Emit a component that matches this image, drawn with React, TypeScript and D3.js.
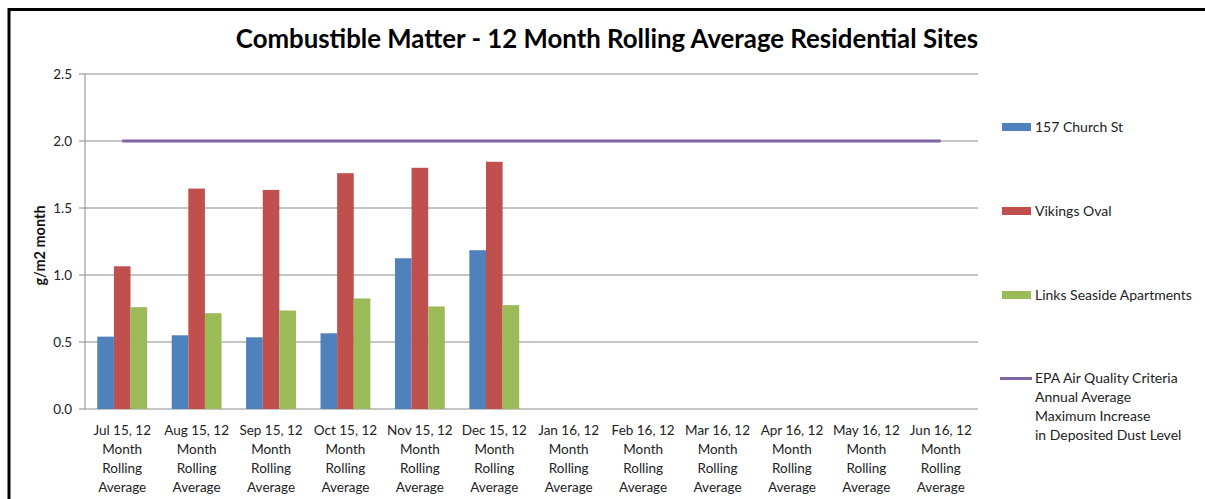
import React from "react";
import * as d3 from "d3";

// Category labels (multi-line) for the 12 monthly rolling averages
const months = [
  "Jul 15, 12", "Aug 15, 12", "Sep 15, 12", "Oct 15, 12", "Nov 15, 12", "Dec 15, 12",
  "Jan 16, 12", "Feb 16, 12", "Mar 16, 12", "Apr 16, 12", "May 16, 12", "Jun 16, 12",
];
const subLines = ["Month", "Rolling", "Average"];

// Series values in g/m2 month (null = no data yet)
const churchSt: (number | null)[] = [0.54, 0.55, 0.535, 0.565, 1.125, 1.185, null, null, null, null, null, null];
const vikingsOval: (number | null)[] = [1.065, 1.645, 1.635, 1.76, 1.8, 1.845, null, null, null, null, null, null];
const linksSeaside: (number | null)[] = [0.76, 0.715, 0.735, 0.825, 0.765, 0.775, null, null, null, null, null, null];
const epaCriteria: number[] = [2, 2, 2, 2, 2, 2, 2, 2, 2, 2, 2, 2];

const yTicks = [0, 0.5, 1.0, 1.5, 2.0, 2.5];

const seriesNames = ["157 Church St", "Vikings Oval", "Links Seaside Apartments"];
const seriesColors = ["#4F81BD", "#C0504D", "#9BBB59"];
const epaColor = "#7E64A0";
const epaLabel = ["EPA Air Quality Criteria", "Annual Average", "Maximum Increase", "in Deposited Dust Level"];

const W = 1205;
const H = 499;
const FONT = "Lato, 'Open Sans', sans-serif";

export default function App() {
  const left = 85;
  const right = 978;
  const top = 74;
  const bottom = 409;

  const x = d3.scaleBand<string>().domain(months).range([left, right]).paddingInner(0.33).paddingOuter(0.165);
  const y = d3.scaleLinear().domain([0, 2.5]).range([bottom, top]);
  const series = [churchSt, vikingsOval, linksSeaside];
  const xs = d3.scaleBand<number>().domain([0, 1, 2]).range([0, x.bandwidth()]);

  const line = d3
    .line<number>()
    .x((_, i) => (x(months[i]) as number) + x.bandwidth() / 2)
    .y((d) => y(d));

  const legendY = [127, 211, 295];

  return (
    <svg
      width={W}
      height={H}
      style={{ position: "absolute", left: 0, top: 0, background: "#fff" }}
      fontFamily={FONT}
    >
      {/* frame */}
      <line x1={9} y1={9.5} x2={W} y2={9.5} stroke="#000" strokeWidth={3} />
      <line x1={9} y1={8} x2={9} y2={H} stroke="#000" strokeWidth={3} />

      <text x={607} y={48} textAnchor="middle" fontSize={25.8} fontWeight="bold" fill="#000">
        Combustible Matter - 12 Month Rolling Average Residential Sites
      </text>

      {/* gridlines + y ticks */}
      {yTicks.map((t) => (
        <g key={t}>
          <line x1={left - 6} x2={right} y1={y(t)} y2={y(t)} stroke="#8a8a8a" strokeWidth={1} />
          <text x={72} y={y(t)} dy="0.35em" textAnchor="end" fontSize={13.5} fill="#222">
            {t.toFixed(1)}
          </text>
        </g>
      ))}
      <line x1={left} x2={left} y1={top} y2={bottom} stroke="#8a8a8a" strokeWidth={1} />

      <text
        transform={`translate(40,${(top + bottom) / 2 + 4}) rotate(-90)`}
        textAnchor="middle"
        dy="0.35em"
        fontSize={14.5}
        fontWeight="bold"
        fill="#111"
      >
        g/m2 month
      </text>

      {/* bars */}
      {series.map((s, si) =>
        s.map((v, i) =>
          v == null ? null : (
            <rect
              key={`${si}-${i}`}
              x={(x(months[i]) as number) + (xs(si) as number)}
              y={y(v)}
              width={xs.bandwidth()}
              height={bottom - y(v)}
              fill={seriesColors[si]}
            />
          )
        )
      )}

      {/* EPA criteria line */}
      <path d={line(epaCriteria) || ""} fill="none" stroke={epaColor} strokeWidth={3} />

      {/* x labels */}
      {months.map((m) => {
        const cx = (x(m) as number) + x.bandwidth() / 2;
        return (
          <text key={m} x={cx} y={430} textAnchor="middle" fontSize={13.5} fill="#222">
            <tspan x={cx} dy="0.35em">{m}</tspan>
            {subLines.map((l) => (
              <tspan key={l} x={cx} dy={19}>{l}</tspan>
            ))}
          </text>
        );
      })}

      {/* legend */}
      {seriesNames.map((n, i) => (
        <g key={n}>
          <rect x={1002} y={legendY[i] - 4} width={29} height={8} fill={seriesColors[i]} />
          <text x={1035} y={legendY[i]} dy="0.35em" fontSize={14} fill="#222">
            {n}
          </text>
        </g>
      ))}
      <line x1={1000} x2={1032} y1={378.5} y2={378.5} stroke={epaColor} strokeWidth={3} />
      <text x={1035} y={378} fontSize={14} fill="#222">
        {epaLabel.map((l, i) => (
          <tspan key={l} x={1035} dy={i === 0 ? "0.35em" : 19}>{l}</tspan>
        ))}
      </text>
    </svg>
  );
}
